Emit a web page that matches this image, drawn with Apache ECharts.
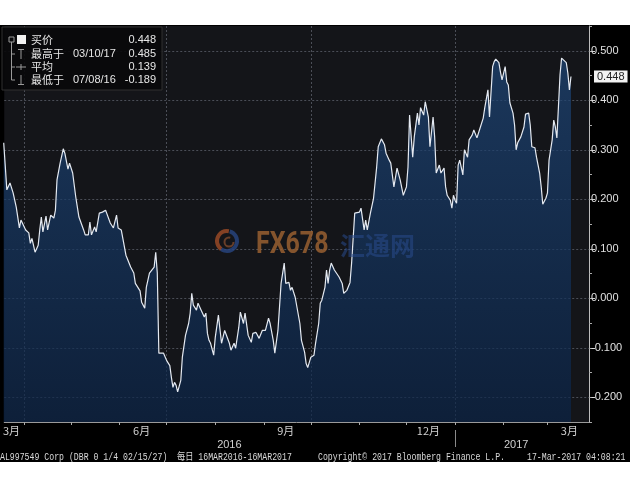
<!DOCTYPE html>
<html><head><meta charset="utf-8">
<script src="https://cdn.jsdelivr.net/npm/echarts@6/dist/echarts.min.js"></script>
<style>
html,body{margin:0;padding:0;background:#fff;}
#c{width:630px;height:490px;background:linear-gradient(#fff 0,#fff 25px,#000 25px,#000 462px,#fff 462px);}
</style>
</head><body><div id="c"></div>
<script>
const dates = [
'2016-03-19','2016-03-21','2016-03-23','2016-03-25','2016-03-27','2016-03-29','2016-03-30','2016-04-02','2016-04-04','2016-04-05',
'2016-04-06','2016-04-08','2016-04-10','2016-04-11','2016-04-12','2016-04-13','2016-04-15','2016-04-16','2016-04-18','2016-04-20',
'2016-04-21','2016-04-22','2016-04-23','2016-04-24','2016-04-26','2016-04-27','2016-04-29','2016-04-30','2016-05-01','2016-05-02',
'2016-05-04','2016-05-05','2016-05-06','2016-05-09','2016-05-10','2016-05-12','2016-05-13','2016-05-14','2016-05-16','2016-05-17',
'2016-05-19','2016-05-21','2016-05-23','2016-05-24','2016-05-26','2016-05-28','2016-05-30','2016-05-31','2016-06-02','2016-06-05',
'2016-06-08','2016-06-10','2016-06-11','2016-06-12','2016-06-14','2016-06-15','2016-06-17','2016-06-18','2016-06-20','2016-06-21',
'2016-06-23','2016-06-24','2016-06-25','2016-06-26','2016-06-27','2016-06-29','2016-07-01','2016-07-02','2016-07-03','2016-07-04',
'2016-07-05','2016-07-06','2016-07-07','2016-07-08','2016-07-10','2016-07-11','2016-07-13','2016-07-15','2016-07-16','2016-07-17',
'2016-07-18','2016-07-20','2016-07-21','2016-07-22','2016-07-23','2016-07-25','2016-07-26','2016-07-27','2016-07-28','2016-07-29',
'2016-07-31','2016-08-01','2016-08-03','2016-08-04','2016-08-05','2016-08-07','2016-08-08','2016-08-10','2016-08-11','2016-08-13',
'2016-08-14','2016-08-16','2016-08-17','2016-08-19','2016-08-20','2016-08-22','2016-08-24','2016-08-25','2016-08-27','2016-08-29',
'2016-08-31','2016-09-02','2016-09-04','2016-09-05','2016-09-07','2016-09-08','2016-09-10','2016-09-11','2016-09-12','2016-09-14',
'2016-09-15','2016-09-17','2016-09-18','2016-09-19','2016-09-21','2016-09-22','2016-09-24','2016-09-25','2016-09-26','2016-09-27',
'2016-09-28','2016-09-29','2016-10-01','2016-10-03','2016-10-04','2016-10-06','2016-10-07','2016-10-08','2016-10-10','2016-10-11',
'2016-10-12','2016-10-13','2016-10-14','2016-10-16','2016-10-17','2016-10-19','2016-10-21','2016-10-22','2016-10-24','2016-10-26',
'2016-10-27','2016-10-29','2016-10-30','2016-11-01','2016-11-02','2016-11-04','2016-11-05','2016-11-06','2016-11-08','2016-11-10',
'2016-11-12','2016-11-13','2016-11-15','2016-11-17','2016-11-18','2016-11-20','2016-11-21','2016-11-22','2016-11-23','2016-11-25',
'2016-11-26','2016-11-27','2016-11-29','2016-12-01','2016-12-02','2016-12-03','2016-12-05','2016-12-06','2016-12-08','2016-12-09',
'2016-12-10','2016-12-12','2016-12-13','2016-12-15','2016-12-16','2016-12-18','2016-12-19','2016-12-20','2016-12-22','2016-12-23',
'2016-12-25','2016-12-26','2016-12-27','2016-12-29','2016-12-30','2016-12-31','2017-01-01','2017-01-02','2017-01-03','2017-01-04',
'2017-01-06','2017-01-07','2017-01-09','2017-01-10','2017-01-12','2017-01-13','2017-01-15','2017-01-16','2017-01-17','2017-01-19',
'2017-01-20','2017-01-22','2017-01-23','2017-01-25','2017-01-26','2017-01-27','2017-01-29','2017-01-30','2017-01-31','2017-02-02',
'2017-02-03','2017-02-04','2017-02-05','2017-02-07','2017-02-08','2017-02-09','2017-02-10','2017-02-12','2017-02-14','2017-02-15',
'2017-02-17','2017-02-18','2017-02-19','2017-02-21','2017-02-22','2017-02-24','2017-02-25','2017-02-26','2017-02-28','2017-03-01',
'2017-03-02','2017-03-04','2017-03-05','2017-03-06','2017-03-07','2017-03-08','2017-03-09','2017-03-10','2017-03-13','2017-03-14',
'2017-03-15','2017-03-16'
];
const values = [
0.314,0.219,0.233,0.213,0.184,0.142,0.158,0.138,0.132,0.111,
0.121,0.093,0.107,0.138,0.164,0.134,0.166,0.138,0.168,0.162,
0.178,0.239,0.235,0.273,0.302,0.293,0.261,0.273,0.269,0.253,
0.204,0.202,0.164,0.138,0.128,0.128,0.154,0.128,0.144,0.134,
0.172,0.174,0.178,0.180,0.152,0.142,0.168,0.142,0.138,0.087,
0.063,0.051,0.030,0.026,0.015,-0.008,-0.020,0.022,0.051,0.053,
0.063,0.093,0.051,-0.111,-0.115,-0.111,-0.126,-0.126,-0.136,-0.160,
-0.180,-0.170,-0.176,-0.189,-0.166,-0.119,-0.075,-0.051,-0.030,0.010,
-0.014,-0.024,-0.010,-0.014,-0.024,-0.038,-0.030,-0.071,-0.085,-0.091,
-0.115,-0.079,-0.034,-0.038,-0.091,-0.065,-0.069,-0.091,-0.105,-0.091,
-0.101,-0.059,-0.028,-0.051,-0.030,-0.075,-0.089,-0.071,-0.069,-0.081,
-0.065,-0.065,-0.040,-0.051,-0.085,-0.111,-0.065,-0.018,0.030,0.071,
0.030,0.032,0.016,0.022,0.002,0.006,-0.051,-0.085,-0.081,-0.109,
-0.132,-0.140,-0.119,-0.115,-0.091,-0.051,-0.010,-0.004,0.022,0.057,
0.030,0.057,0.071,0.057,0.061,0.043,0.030,0.010,0.016,0.032,
0.071,0.172,0.168,0.174,0.182,0.138,0.158,0.138,0.172,0.202,
0.265,0.306,0.322,0.310,0.293,0.279,0.273,0.275,0.225,0.263,
0.259,0.239,0.208,0.225,0.265,0.370,0.285,0.326,0.374,0.350,
0.385,0.370,0.397,0.366,0.306,0.366,0.326,0.253,0.269,0.253,
0.263,0.225,0.208,0.198,0.182,0.208,0.198,0.192,0.269,0.279,
0.249,0.300,0.285,0.320,0.330,0.340,0.324,0.326,0.344,0.364,
0.385,0.421,0.366,0.468,0.478,0.483,0.476,0.457,0.441,0.468,
0.437,0.431,0.395,0.374,0.350,0.300,0.314,0.326,0.346,0.372,
0.374,0.350,0.306,0.304,0.285,0.253,0.225,0.190,0.202,0.213,
0.279,0.320,0.360,0.346,0.324,0.387,0.451,0.485,0.476,0.455,
0.421,0.448
];
const yTicks = [-0.2,-0.1,0,0.1,0.2,0.3,0.4,0.5];
const monthTicks = ['2016-04-01','2016-05-01','2016-06-01','2016-07-01','2016-08-01','2016-09-01','2016-10-01','2016-11-01','2016-12-01','2017-01-01','2017-02-01','2017-03-01'];
const quarterLines = ['2016-04-01','2016-07-01','2016-10-01','2017-01-01'];
const monthLabels = ['2016-03-24','2016-06-15','2016-09-15','2016-12-15','2017-03-15'];
const yearLabels = ['2016-08-10','2017-02-09'];
const yearBreaks = ['2017-01-01'];
const xMin = '2016-03-19 08:00:00';
const xMax = '2017-03-27 12:00:00';
const lastPrice = 0.448;
const infoLabels = ['买价','最高于','平均','最低于'];
const infoDates = ['','03/10/17','','07/08/16'];
const infoValues = ['0.448','0.485','0.139','-0.189'];
const footerTexts = ['AL997549 Corp (DBR 0 1/4 02/15/27)','每日 16MAR2016-16MAR2017','Copyright© 2017 Bloomberg Finance L.P.','17-Mar-2017 04:08:21'];

const chart = echarts.init(document.getElementById('c'), null, {renderer:'canvas'});
const ts = s => echarts.time.parse(s).getTime();
const seriesData = dates.map((d,i)=>[ts(d), values[i]]);

const rowY = [40,54,67,80];
const footerX = [0,177,318,527];
const gray = '#9a9a9a';
const graphics = [
  {type:'rect', z:100, shape:{x:2,y:27,width:160,height:63}, style:{fill:'rgba(8,8,10,0.9)', stroke:'#303030', lineWidth:1}},
  {type:'rect', z:101, shape:{x:9,y:37,width:5,height:5}, style:{fill:'none', stroke:gray, lineWidth:1}},
  {type:'rect', z:101, shape:{x:17,y:35,width:9,height:9}, style:{fill:'#f2f2f2'}},
  {type:'line', z:101, shape:{x1:11.5,y1:42,x2:11.5,y2:80}, style:{stroke:gray, lineWidth:1}},
  {type:'line', z:101, shape:{x1:11.5,y1:54,x2:15,y2:54}, style:{stroke:gray, lineWidth:1}},
  {type:'line', z:101, shape:{x1:11.5,y1:67,x2:15,y2:67}, style:{stroke:gray, lineWidth:1}},
  {type:'line', z:101, shape:{x1:11.5,y1:80,x2:15,y2:80}, style:{stroke:gray, lineWidth:1}},
  {type:'line', z:101, shape:{x1:18,y1:49.5,x2:24,y2:49.5}, style:{stroke:gray, lineWidth:1}},
  {type:'line', z:101, shape:{x1:21,y1:49.5,x2:21,y2:59}, style:{stroke:gray, lineWidth:1}},
  {type:'line', z:101, shape:{x1:16,y1:67,x2:26,y2:67}, style:{stroke:gray, lineWidth:1}},
  {type:'line', z:101, shape:{x1:21,y1:64,x2:21,y2:70}, style:{stroke:gray, lineWidth:1}},
  {type:'line', z:101, shape:{x1:21,y1:75,x2:21,y2:84.5}, style:{stroke:gray, lineWidth:1}},
  {type:'line', z:101, shape:{x1:18,y1:84.5,x2:24,y2:84.5}, style:{stroke:gray, lineWidth:1}},
  {type:'arc', z:5, shape:{cx:227,cy:241,r:10,startAngle:-1.3,endAngle:2.2}, style:{stroke:'rgba(40,70,130,0.8)', lineWidth:4, fill:'none'}},
  {type:'arc', z:5, shape:{cx:227,cy:241,r:10,startAngle:2.2,endAngle:4.9}, style:{stroke:'rgba(170,80,40,0.75)', lineWidth:4, fill:'none'}},
  {type:'arc', z:5, shape:{cx:229,cy:242,r:4.5,startAngle:0,endAngle:5}, style:{stroke:'rgba(160,90,50,0.6)', lineWidth:2, fill:'none'}},
  {type:'text', z:5, x:256, y:245, scaleX:0.78, style:{text:'FX678', fill:'rgba(160,100,50,0.8)', font:'bold 32px Roboto', verticalAlign:'middle'}},
  {type:'text', z:5, x:340, y:245, style:{text:'汇通网', fill:'rgba(40,75,140,0.55)', font:'bold 25px "Noto Sans CJK SC"', verticalAlign:'middle'}}
];
infoLabels.forEach((t,i)=>{
  graphics.push({type:'text', z:102, x:31, y:rowY[i], style:{text:t, fill:'#e6e6e6', font:'11px "Noto Sans CJK SC"', verticalAlign:'middle'}});
  if (infoDates[i]) graphics.push({type:'text', z:102, x:73, y:rowY[i], style:{text:infoDates[i], fill:'#e6e6e6', font:'11px "Liberation Sans"', verticalAlign:'middle'}});
  graphics.push({type:'text', z:102, x:156, y:rowY[i], style:{text:infoValues[i], fill:'#e6e6e6', font:'11px "Liberation Sans"', align:'right', verticalAlign:'middle'}});
});
footerTexts.forEach((t,i)=>{
  graphics.push({type:'text', z:102, x:footerX[i], y:457, scaleX:0.82, style:{text:t, fill:'#d8d8d8', font:'10px "Liberation Mono", "Noto Sans CJK SC"', verticalAlign:'middle'}});
});

const xBase = {type:'value', min:ts(xMin), max:ts(xMax), position:'bottom', scale:true};
chart.setOption({
  animation:false,
  grid:{left:0, right:41, top:26, bottom:68, show:true, backgroundColor:'#141519', borderWidth:0},
  xAxis:[
    Object.assign({}, xBase, {
      axisLine:{show:true, onZero:false, lineStyle:{color:'#9a9a9a', width:1}},
      axisTick:{show:true, customValues:monthTicks.map(ts), length:3, lineStyle:{color:'#aaaaaa'}},
      axisLabel:{customValues:monthLabels.map(ts), formatter:v=>(new Date(v).getMonth()+1)+'月', color:'#d0d0d0', fontSize:11, margin:3, fontFamily:'"Noto Sans CJK SC"', hideOverlap:false},
      splitLine:{show:false}
    }),
    Object.assign({}, xBase, {
      axisLine:{show:false, onZero:false},
      axisTick:{show:false, customValues:quarterLines.map(ts)},
      axisLabel:{show:false},
      splitLine:{show:true, lineStyle:{color:'#4b4e57', type:[2,2], width:1}}
    }),
    Object.assign({}, xBase, {
      offset:8,
      axisLine:{show:false, onZero:false},
      axisTick:{show:true, customValues:yearBreaks.map(ts), length:17, lineStyle:{color:'#8a8a8a'}},
      axisLabel:{customValues:yearLabels.map(ts), formatter:v=>String(new Date(v).getFullYear()), color:'#d0d0d0', fontSize:11, margin:9, fontFamily:'"Liberation Sans"'},
      splitLine:{show:false}
    })
  ],
  yAxis:[
    {type:'value', position:'right', min:-0.25, max:0.55, offset:0,
     axisLine:{show:true, lineStyle:{color:'#bdbdbd', width:1}},
     axisTick:{show:true, customValues:yTicks, length:6, lineStyle:{color:'#d0d0d0'}},
     axisLabel:{customValues:yTicks, formatter:v=>v.toFixed(3), color:'#e0e0e0', fontSize:11, margin:2, fontFamily:'"Liberation Sans"'},
     splitLine:{show:true, lineStyle:{color:'#4b4e57', type:[2,2], width:1}}
    },
    {type:'value', position:'right', min:-0.25, max:0.55, interval:0.05, offset:0,
     axisLine:{show:false},
     axisTick:{show:true, length:3, lineStyle:{color:'#aaaaaa'}},
     axisLabel:{show:false},
     splitLine:{show:false}
    }
  ],
  series:[{
    type:'line', xAxisIndex:0, yAxisIndex:0, data:seriesData,
    showSymbol:false, symbol:'none', clip:true,
    lineStyle:{color:'#e4e9f1', width:1.2},
    areaStyle:{origin:'start', color:new echarts.graphic.LinearGradient(0,0,0,1,[{offset:0,color:'#1e4678'},{offset:1,color:'#0b2447'}])},
    markLine:{silent:true, symbol:'none', animation:false, precision:3,
      lineStyle:{color:'rgba(0,0,0,0)', width:0, opacity:1},
      label:{show:true, position:'end', formatter:()=>lastPrice.toFixed(3), backgroundColor:'#f2f2f2', color:'#222', opacity:1, fontSize:11, fontFamily:'"Liberation Sans"', padding:[1,3,0,3], distance:5},
      data:[{yAxis:lastPrice}]
    }
  }],
  graphic:graphics
});
</script>
</body></html>
